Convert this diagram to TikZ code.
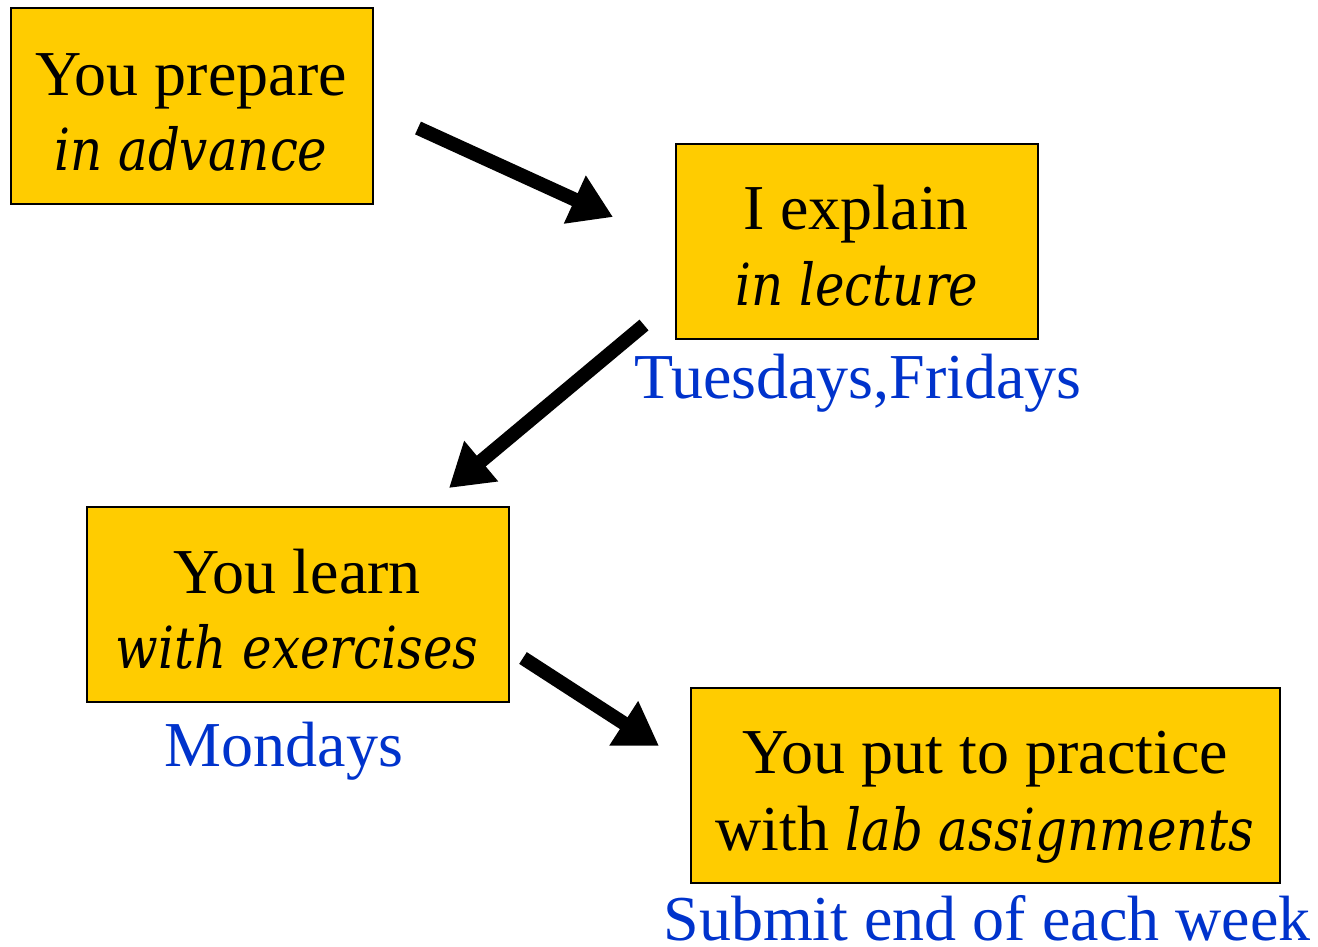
\documentclass[tikz,border=0pt]{standalone}
\usepackage{fontspec}
\setmainfont{Liberation Serif}
\newfontfamily\itf[FakeStretch=0.86]{DejaVu Serif}
\usetikzlibrary{arrows.meta}
\definecolor{boxfill}{HTML}{FFCC00}
\definecolor{lblue}{HTML}{0033CC}
\tikzset{
  box/.style={draw=black, line width=2pt, fill=boxfill, inner sep=0pt, anchor=north west},
  up/.style={anchor=base, inner sep=0pt, font=\fontsize{64}{70}\selectfont},
  it/.style={anchor=base, inner sep=0pt, font=\fontsize{58}{64}\itf\itshape},
  lbl/.style={anchor=base, inner sep=0pt, text=lblue, font=\fontsize{64}{70}\selectfont},
  bigarrow/.style={line width=14pt, -{Triangle[length=42pt,width=50pt]}}
}
\begin{document}
\begin{tikzpicture}[x=1pt,y=-1pt]
\useasboundingbox (0,0) rectangle (1318,946);
% boxes
\node[box, minimum width=362pt, minimum height=196pt] (b1) at (10,7) {};
\node[box, minimum width=362pt, minimum height=195pt] (b2) at (675,143) {};
\node[box, minimum width=422pt, minimum height=195pt] (b3) at (86,506) {};
\node[box, minimum width=589pt, minimum height=195pt] (b4) at (690,687) {};
% texts
\node[up] (t1a) at (191,95) {You prepare};
\node[it] (t1b) at (191,170) {in advance};
\node[up] (t2a) at (856,229) {I explain};
\node[it] (t2b) at (857,305) {in lecture};
\node[up] (t3a) at (297,593) {You learn};
\node[it] (t3b) at (297,668) {with exercises};
\node[up] (t4a) at (985,773) {You put to practice};
\node[up] (t4b) at (985,850) {with {\fontsize{58}{64}\itf\itshape lab assignments}};
% labels
\node[lbl] (l2) at (858,398) {Tuesdays,Fridays};
\node[lbl] (l3) at (284,766) {Mondays};
\node[lbl] (l4) at (987,940) {Submit end of each week};
% arrows
\coordinate (a1s) at (418,128);
\coordinate (a1e) at (613,217);
\coordinate (a2s) at (644,325);
\coordinate (a2e) at (449,488);
\coordinate (a3s) at (523,658);
\coordinate (a3e) at (659,746);
\draw[bigarrow] (a1s) -- (a1e);
\draw[bigarrow] (a2s) -- (a2e);
\draw[bigarrow] (a3s) -- (a3e);
\end{tikzpicture}
\end{document}
